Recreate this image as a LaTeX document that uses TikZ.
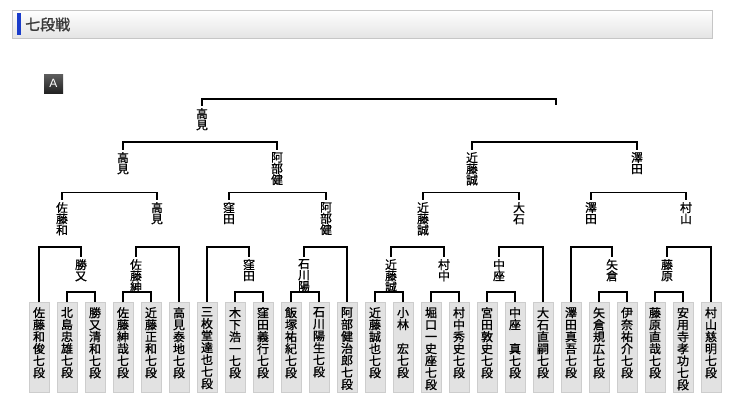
\documentclass[tikz,border=0pt]{standalone}
\usepackage{fontspec}
\newfontfamily\cjk[FakeBold=0.9]{Noto Sans CJK JP}
\newfontfamily\cjkh[FakeBold=1.2]{Noto Sans CJK JP}
\newfontfamily\lat{Liberation Sans}
\definecolor{boxfill}{HTML}{E2E2E2}
\definecolor{boxline}{HTML}{CDCDCD}
\definecolor{hdrline}{HTML}{C6C6C6}
\definecolor{hdrbot}{HTML}{E4E4E4}
\definecolor{barblue}{HTML}{1A3CCB}
\definecolor{titlegray}{HTML}{3A3A3A}
\definecolor{badgetop}{HTML}{5E5E5E}
\definecolor{badgebot}{HTML}{222222}
\lineskiplimit=-20pt
\lineskip=0pt
\tikzset{
  bline/.style={line width=1.1pt, black},
  pbox/.style={draw=boxline, fill=boxfill, line width=0.8pt, anchor=north, minimum width=20pt, minimum height=90pt, inner sep=0pt},
  ptext/.style={anchor=north, inner sep=0pt, align=center, text=black, font=\cjk\fontsize{12}{12}\selectfont},
  lab/.style={anchor=north, inner xsep=0pt, inner ysep=2.5pt, align=center, font=\cjk\fontsize{11.8}{11.2}\selectfont},
  hdrbox/.style={draw=hdrline, top color=white, bottom color=hdrbot, minimum width=700pt, minimum height=28pt, inner sep=0pt},
  badge/.style={top color=badgetop, bottom color=badgebot, minimum width=19pt, minimum height=19pt, inner sep=0pt, text=white, font=\lat\fontsize{12}{12}\selectfont}
}
\begin{document}
\begin{tikzpicture}[x=1pt,y=-1pt]
\useasboundingbox (0,0) rectangle (731,400);
\fill[white] (0,0) rectangle (731,400);
% header
\node[hdrbox] (hdr) at (362,24) {};
\fill[barblue] (17,13) rectangle (21,35);
\node[anchor=west, inner sep=0pt, text=titlegray, font=\cjkh\fontsize{15}{15}\selectfont] (title) at (25,24.5) {七段戦};
\node[badge] (badge) at (53.5,83.5) {A};
% player boxes
\foreach \i/\t in {
 1/{佐\\藤\\和\\俊\\七\\段},
 2/{北\\島\\忠\\雄\\七\\段},
 3/{勝\\又\\清\\和\\七\\段},
 4/{佐\\藤\\紳\\哉\\七\\段},
 5/{近\\藤\\正\\和\\七\\段},
 6/{高\\見\\泰\\地\\七\\段},
 7/{三\\枚\\堂\\達\\也\\七\\段},
 8/{木\\下\\浩\\一\\七\\段},
 9/{窪\\田\\義\\行\\七\\段},
 10/{飯\\塚\\祐\\紀\\七\\段},
 11/{石\\川\\陽\\生\\七\\段},
 12/{阿\\部\\健\\治\\郎\\七\\段},
 13/{近\\藤\\誠\\也\\七\\段},
 14/{小\\林\\　\\宏\\七\\段},
 15/{堀\\口\\一\\史\\座\\七\\段},
 16/{村\\中\\秀\\史\\七\\段},
 17/{宮\\田\\敦\\史\\七\\段},
 18/{中\\座\\　\\真\\七\\段},
 19/{大\\石\\直\\嗣\\七\\段},
 20/{澤\\田\\真\\吾\\七\\段},
 21/{矢\\倉\\規\\広\\七\\段},
 22/{伊\\奈\\祐\\介\\七\\段},
 23/{藤\\原\\直\\哉\\七\\段},
 24/{安\\用\\寺\\孝\\功\\七\\段},
 25/{村\\山\\慈\\明\\七\\段}}{
  \node[pbox] (p\i) at ({39+28*(\i-1)},302) {};
  \node[ptext] (t\i) at ([yshift=-5pt]p\i.north) {\t};
}
% level 4 labels
\node[lab] (m23)   at (81,256.5)  {勝\\又};
\node[lab] (m45)   at (136,256.5) {佐\\藤\\紳};
\node[lab] (m89)   at (249,256.5) {窪\\田};
\node[lab] (m1011) at (304,256.5) {石\\川\\陽};
\node[lab] (m1314) at (391,256.5) {近\\藤\\誠};
\node[lab] (m1516) at (444,256.5) {村\\中};
\node[lab] (m1718) at (499,256.5) {中\\座};
\node[lab] (m2122) at (612,256.5) {矢\\倉};
\node[lab] (m2324) at (667,256.5) {藤\\原};
% level 3 labels
\node[lab] (n1) at (62,199.5)  {佐\\藤\\和};
\node[lab] (n2) at (157,199.5) {高\\見};
\node[lab] (n3) at (229,199.5) {窪\\田};
\node[lab] (n4) at (326,199.5) {阿\\部\\健};
\node[lab] (n5) at (423,199.5) {近\\藤\\誠};
\node[lab] (n6) at (519,199.5) {大\\石};
\node[lab] (n7) at (591,199.5) {澤\\田};
\node[lab] (n8) at (686,199.5) {村\\山};
% level 2 labels
\node[lab] (q1) at (123,149.5) {高\\見};
\node[lab] (q2) at (277,149.5) {阿\\部\\健};
\node[lab] (q3) at (472,149.5) {近\\藤\\誠};
\node[lab] (q4) at (637,149.5) {澤\\田};
% level 1
\node[lab] (r1) at (202,105.5) {高\\見};
\coordinate (r2) at (556,105);
% bracket heights
\coordinate (h23) at (81,292);
\coordinate (h45) at (137,292);
\coordinate (h89) at (249,292);
\coordinate (h1011) at (305,292);
\coordinate (h1314) at (389,292);
\coordinate (h1516) at (445,292);
\coordinate (h1718) at (501,292);
\coordinate (h2122) at (613,292);
\coordinate (h2324) at (669,292);
\coordinate (hn1) at (62,247);
\coordinate (hn2) at (157,247);
\coordinate (hn3) at (229,247);
\coordinate (hn4) at (326,247);
\coordinate (hn5) at (423,247);
\coordinate (hn6) at (519,247);
\coordinate (hn7) at (591,247);
\coordinate (hn8) at (686,247);
\coordinate (hq1) at (123,192.5);
\coordinate (hq2) at (277,192.5);
\coordinate (hq3) at (472,192.5);
\coordinate (hq4) at (637,192.5);
\coordinate (hr1) at (202,142);
\coordinate (hr2) at (556,142);
\coordinate (hroot) at (380,99);
% brackets: leaves
\draw[bline] (p2.north) |- (h23) -| (p3.north);
\draw[bline] (p4.north) |- (h45) -| (p5.north);
\draw[bline] (p8.north) |- (h89) -| (p9.north);
\draw[bline] (p10.north) |- (h1011) -| (p11.north);
\draw[bline] (p13.north) |- (h1314) -| (p14.north);
\draw[bline] (p15.north) |- (h1516) -| (p16.north);
\draw[bline] (p17.north) |- (h1718) -| (p18.north);
\draw[bline] (p21.north) |- (h2122) -| (p22.north);
\draw[bline] (p23.north) |- (h2324) -| (p24.north);
% level 3 brackets
\draw[bline] (p1.north) |- (hn1) -| (m23.north);
\draw[bline] (m45.north) |- (hn2) -| (p6.north);
\draw[bline] (p7.north) |- (hn3) -| (m89.north);
\draw[bline] (m1011.north) |- (hn4) -| (p12.north);
\draw[bline] (m1314.north) |- (hn5) -| (m1516.north);
\draw[bline] (m1718.north) |- (hn6) -| (p19.north);
\draw[bline] (p20.north) |- (hn7) -| (m2122.north);
\draw[bline] (m2324.north) |- (hn8) -| (p25.north);
% level 2 brackets
\draw[bline] (n1.north) |- (hq1) -| (n2.north);
\draw[bline] (n3.north) |- (hq2) -| (n4.north);
\draw[bline] (n5.north) |- (hq3) -| (n6.north);
\draw[bline] (n7.north) |- (hq4) -| (n8.north);
% level 1 brackets
\draw[bline] (q1.north) |- (hr1) -| (q2.north);
\draw[bline] (q3.north) |- (hr2) -| (q4.north);
% final
\draw[bline] (r1.north) |- (hroot) -| (r2);
\end{tikzpicture}
\end{document}
